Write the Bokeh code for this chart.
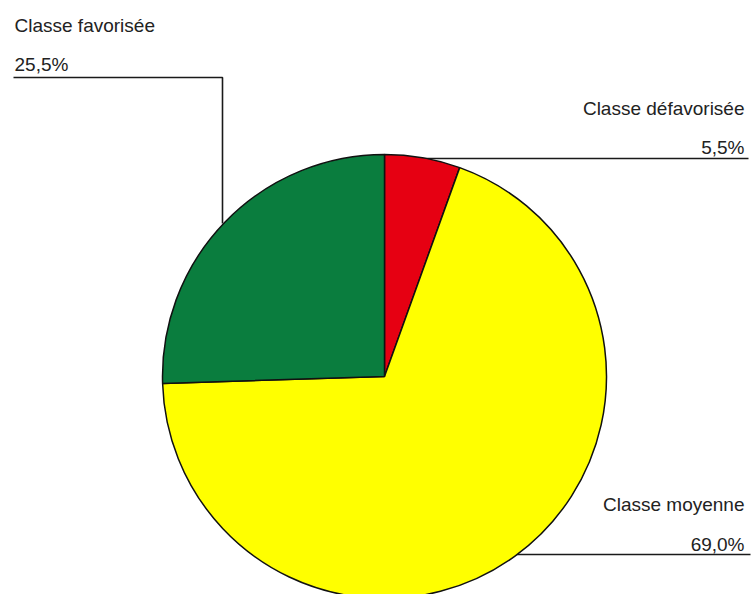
import math
from bokeh.plotting import figure
from bokeh.models import Range1d, ColumnDataSource
from bokeh.core.properties import value
from bokeh.embed import file_html
from bokeh.resources import INLINE

# ---- data ----
categories = ["Classe défavorisée", "Classe moyenne", "Classe favorisée"]
shares = [5.5, 69.0, 25.5]
slice_colors = ["#e60012", "#ffff00", "#0a7d3e"]

W, H = 752, 594

p = figure(width=W, height=H, output_backend="svg", toolbar_location=None,
           x_range=Range1d(0, W), y_range=Range1d(0, H),
           x_axis_location=None, y_axis_location=None, min_border=0)
p.outline_line_color = None
p.grid.visible = False
p.background_fill_color = "white"
p.border_fill_color = "white"

def Y(py):
    return H - py

# pie geometry (pixel layout)
cx, cy, r = 384, Y(376), 222

total = sum(shares)
start = []
end = []
a = math.pi / 2
for s in shares:
    start.append(a)
    a -= s / total * 2 * math.pi
    end.append(a)

src = ColumnDataSource(dict(cat=categories, share=shares, color=slice_colors,
                            start=start, end=end))

line_color = "#1a1a1a"
# leader lines (drawn first, pie on top)
p.line([13, 222, 222], [Y(77), Y(77), Y(223)], line_color=line_color, line_width=1.6)
p.line([420, 748], [Y(158), Y(158)], line_color=line_color, line_width=1.6)
p.line([500, 750], [Y(554), Y(554)], line_color=line_color, line_width=1.6)

p.wedge(x=cx, y=cy, radius=r, start_angle="end", end_angle="start",
        fill_color="color", line_color="#111111", line_width=1.5, source=src)

def fmt(v):
    return f"{v:.1f}".replace(".", ",") + "%"

# label layout: (x, baseline y of name, baseline y of percent, align)
label_layout = {
    "Classe favorisée": (14, 25, 64, "left"),
    "Classe défavorisée": (744, 108, 147, "right"),
    "Classe moyenne": (744, 504, 544, "right"),
}

for cat, s in zip(categories, shares):
    x, yn, yp, al = label_layout[cat]
    p.text(x=[x, x], y=[Y(yn), Y(yp)], text=[cat, fmt(s)],
           text_font=value("Liberation Sans"), text_font_size="19px",
           text_color="#222222", text_align=al, text_baseline="alphabetic")

open("out.html", "w").write(file_html(p, INLINE))
